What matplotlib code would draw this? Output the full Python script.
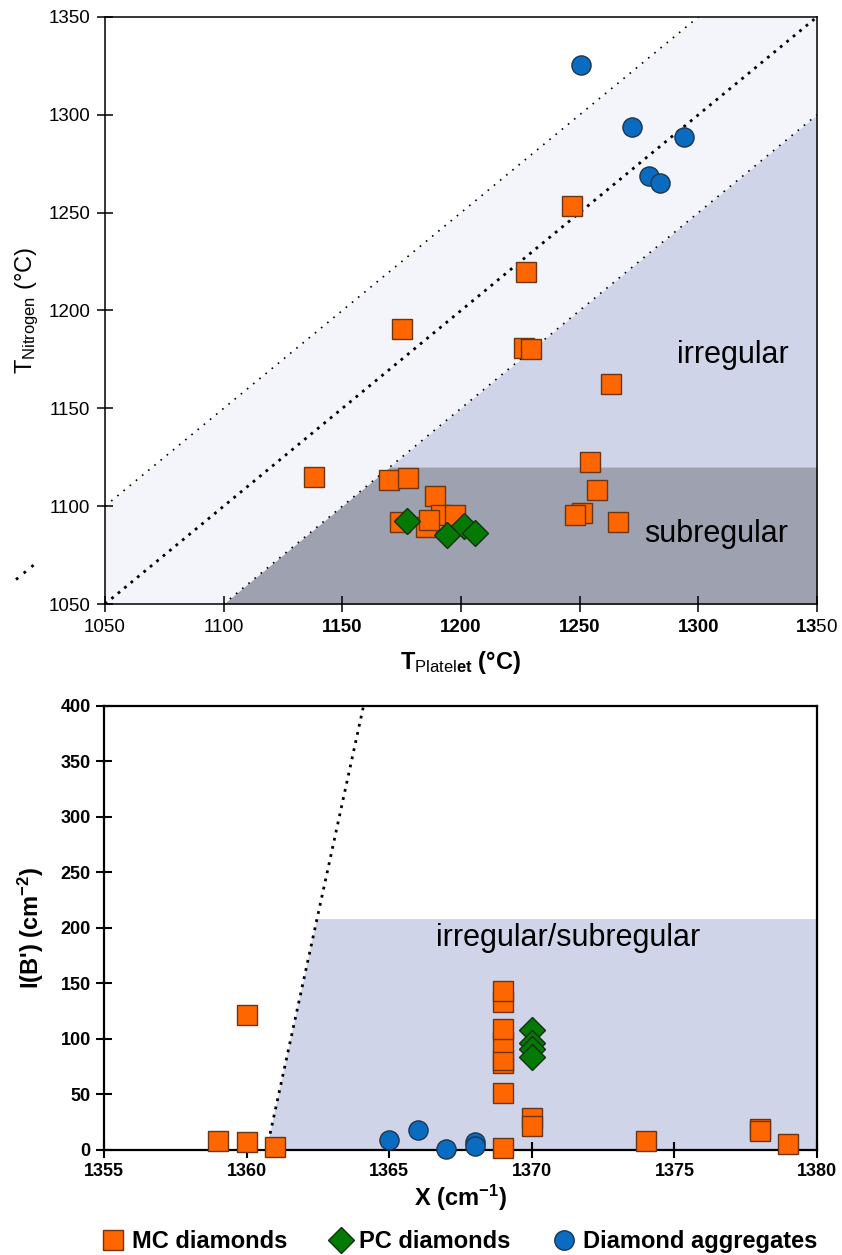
import numpy as np
import matplotlib
matplotlib.use("Agg")
import matplotlib.pyplot as plt
from matplotlib.lines import Line2D

plt.rcParams["font.family"] = ["Liberation Sans", "DejaVu Sans"]
plt.rcParams["mathtext.fontset"] = "custom"
plt.rcParams["mathtext.rm"] = "Liberation Sans"
plt.rcParams["mathtext.it"] = "Liberation Sans:italic"
plt.rcParams["mathtext.bf"] = "Liberation Sans:bold"
plt.rcParams["mathtext.sf"] = "Liberation Sans"

# ---------------- data: platelet vs nitrogen temperatures ----------------
mc_tplatelet = [1138.0, 1169.8, 1177.8, 1175.2, 1189.0, 1174.3, 1185.2, 1191.5,
                1197.4, 1186.5, 1226.5, 1229.3, 1227.6, 1246.6, 1263.4, 1254.3,
                1257.1, 1250.8, 1248.0, 1266.2]
mc_tnitrogen = [1115.1, 1113.4, 1114.3, 1190.6, 1105.2, 1092.1, 1089.2, 1095.5,
                1095.5, 1092.9, 1181.0, 1180.4, 1219.6, 1253.5, 1162.5, 1122.4,
                1108.3, 1096.7, 1095.5, 1092.1]
pc_tplatelet = [1177.1, 1194.3, 1201.2, 1205.8]
pc_tnitrogen = [1092.6, 1085.3, 1089.9, 1086.4]
agg_tplatelet = [1250.6, 1272.1, 1293.9, 1279.1, 1284.0]
agg_tnitrogen = [1325.5, 1294.0, 1288.9, 1268.9, 1265.1]

# ---------------- data: B' peak position vs intensity ----------------
mc_x = [1359, 1360, 1360, 1361, 1369, 1369, 1369, 1369, 1369, 1369, 1369, 1369,
        1370, 1370, 1374, 1378, 1378, 1379]
mc_ib = [8, 122, 7, 3, 133, 143, 78, 81, 97, 109, 51, 2,
         29, 22, 8, 18.5, 17, 5]
pc_x = [1370, 1370, 1370, 1370]
pc_ib = [108, 96, 91, 84]
agg_x = [1365, 1366, 1367, 1368, 1368]
agg_ib = [9, 18, 0.6, 7.5, 3.9]

t_ticks = [1050, 1100, 1150, 1200, 1250, 1300, 1350]
x_ticks = [1355, 1360, 1365, 1370, 1375, 1380]
ib_ticks = [0, 50, 100, 150, 200, 250, 300, 350, 400]

ORANGE = "#ff6600"
ORANGE_EDGE = "#6b3413"
GREEN = "#047a04"
GREEN_EDGE = "#123012"
BLUE = "#0a6cc0"
BLUE_EDGE = "#1d3550"
BAND = "#f4f5fb"
IRREG = "#d0d4e8"
SUBREG = "#9ea1b0"

SQ = 13.7   # square side (pt)
CI = 13.8   # circle diameter (pt)
DI = 13.0   # diamond size (pt)

fig = plt.figure(figsize=(8.42, 12.55), dpi=100)
ax1 = fig.add_axes([0.1247, 0.5187, 0.8456, 0.4678])
ax2 = fig.add_axes([0.1235, 0.0837, 0.8468, 0.3538])

# ---------------- upper panel ----------------
ax1.set_xlim(1050, 1350)
ax1.set_ylim(1050, 1350)
xx = np.linspace(1050, 1350, 301)
ax1.fill_between(xx, xx - 50, xx + 50, color=BAND, lw=0, zorder=0)
xr = np.linspace(1100, 1350, 251)
ax1.fill_between(xr, 1050, xr - 50, color=IRREG, lw=0, zorder=0.5)
ax1.fill_between(xr, 1050, np.minimum(xr - 50, 1120), color=SUBREG, lw=0, zorder=0.6)

ax1.plot([1050, 1350], [1050, 1350], color="black", lw=2.0,
         linestyle=(0, (1, 2)), zorder=1)
ax1.plot([1050, 1300], [1100, 1350], color="black", lw=1.2,
         linestyle=(0, (1, 3.8)), zorder=1)
ax1.plot([1100, 1350], [1050, 1300], color="black", lw=1.2,
         linestyle=(0, (1, 3.8)), zorder=1)
ax1.plot([1012.5, 1021], [1062.5, 1071], color="black", lw=2.0,
         linestyle=(0, (1, 2.6)), clip_on=False, zorder=1)

ax1.plot(mc_tplatelet, mc_tnitrogen, ls="none", marker="s", ms=SQ,
         mfc=ORANGE, mec=ORANGE_EDGE, mew=1.0, zorder=3)
ax1.plot(pc_tplatelet, pc_tnitrogen, ls="none", marker="D", ms=DI,
         mfc=GREEN, mec=GREEN_EDGE, mew=1.0, zorder=4)
ax1.plot(agg_tplatelet, agg_tnitrogen, ls="none", marker="o", ms=CI,
         mfc=BLUE, mec=BLUE_EDGE, mew=1.0, zorder=4)

ax1.text(1338, 1177, "irregular", fontsize=22, ha="right", va="center")
ax1.text(1338, 1086, "subregular", fontsize=22, ha="right", va="center")

ax1.set_xticks(t_ticks)
ax1.set_yticks(t_ticks)
ax1.set_xticklabels(["1050", "1100", "1150", "1200", "1250", "1300",
                     r"$\mathbf{13}\mathrm{50}$"], fontsize=13.5)
for lbl, w in zip(ax1.get_xticklabels(),
                  ["normal", "normal", "bold", "bold", "bold", "bold", "normal"]):
    lbl.set_fontweight(w)
ax1.set_yticklabels([str(t) for t in t_ticks], fontsize=13.5)
ax1.tick_params(direction="inout", length=11, width=1.1, pad=5)
for s in ax1.spines.values():
    s.set_linewidth(1.1)
    s.set_zorder(2.5)

ax1.set_xlabel(r"$\mathbf{T}_{\mathrm{Platel}\mathbf{et}}$ (°C)", fontsize=17,
               fontweight="bold")
ax1.xaxis.set_label_coords(0.5, -0.077)
ax1.set_ylabel(r"$\mathrm{T}_{\mathrm{Nitrogen}}$ (°C)", fontsize=17)
ax1.yaxis.set_label_coords(-0.09, 0.50)

# ---------------- lower panel ----------------
ax2.set_xlim(1355, 1380)
ax2.set_ylim(0, 400)
ax2.fill([1360.7, 1362.47, 1380, 1380], [0, 208, 208, 0], color=IRREG, lw=0,
         zorder=0.5)
ax2.plot([1360.7, 1364.1], [0, 400], color="black", lw=2.0,
         linestyle=(0, (1, 2)), zorder=1)

ax2.plot(mc_x, mc_ib, ls="none", marker="s", ms=SQ, mfc=ORANGE,
         mec=ORANGE_EDGE, mew=1.0, zorder=3, clip_on=False)
ax2.plot(pc_x, pc_ib, ls="none", marker="D", ms=DI, mfc=GREEN,
         mec=GREEN_EDGE, mew=1.0, zorder=4, clip_on=False)
ax2.plot(agg_x, agg_ib, ls="none", marker="o", ms=CI, mfc=BLUE,
         mec=BLUE_EDGE, mew=1.0, zorder=4, clip_on=False)

ax2.text(1366.63, 191, "irregular/subregular", fontsize=22, ha="left",
         va="center")

ax2.set_xticks(x_ticks)
ax2.set_yticks(ib_ticks)
ax2.set_xticklabels([str(t) for t in x_ticks], fontsize=13, fontweight="bold")
ax2.set_yticklabels([str(t) for t in ib_ticks], fontsize=13, fontweight="bold")
ax2.tick_params(direction="inout", length=11, width=1.5, pad=4)
for s in ax2.spines.values():
    s.set_linewidth(1.6)
    s.set_zorder(2.5)

ax2.set_xlabel(r"X (cm$^{\mathbf{-1}}$)", fontsize=17, fontweight="bold")
ax2.xaxis.set_label_coords(0.5, -0.075)
ax2.set_ylabel(r"I(B') (cm$^{\mathbf{-2}}$)", fontsize=17, fontweight="bold")
ax2.yaxis.set_label_coords(-0.082, 0.50)

# ---------------- legend ----------------
handles = [
    Line2D([], [], ls="none", marker="s", ms=14.5, mfc=ORANGE,
           mec=ORANGE_EDGE, mew=1.0, label="MC diamonds"),
    Line2D([], [], ls="none", marker="D", ms=13, mfc=GREEN,
           mec=GREEN_EDGE, mew=1.0, label="PC diamonds"),
    Line2D([], [], ls="none", marker="o", ms=14, mfc=BLUE,
           mec=BLUE_EDGE, mew=1.0, label="Diamond aggregates"),
]
fig.legend(handles=handles, loc="center", bbox_to_anchor=(0.5455, 0.0105),
           ncol=3, frameon=False, prop={"size": 17, "weight": "bold"},
           handlelength=1.0, handletextpad=0.3, columnspacing=1.75,
           borderpad=0.0, borderaxespad=0.0)

fig.savefig("out.png", dpi=100)
